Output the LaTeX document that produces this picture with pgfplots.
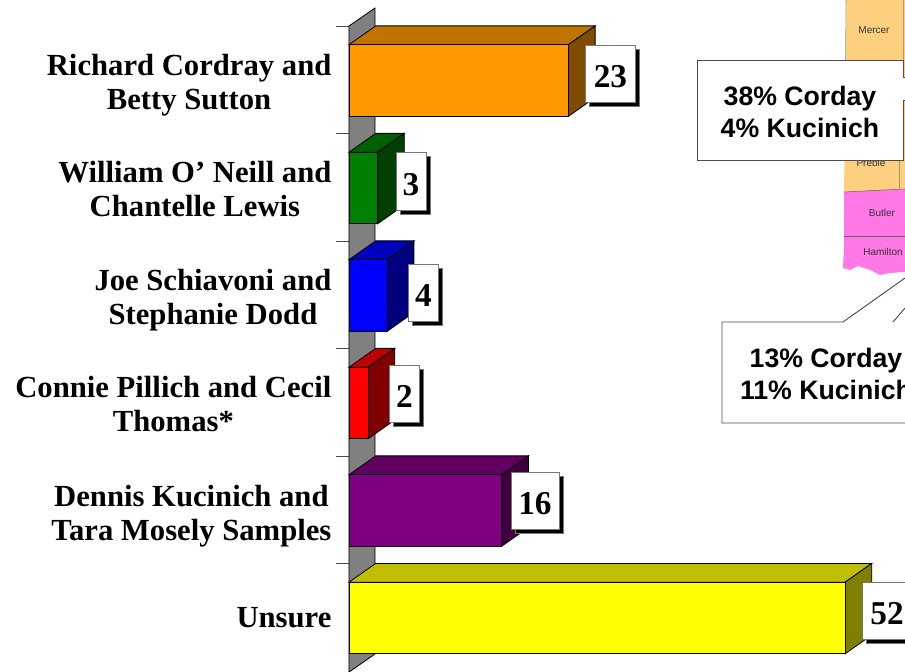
\documentclass[border=0pt]{standalone}
\usepackage{fontspec}
\setmainfont{Liberation Serif}
\newfontfamily\sansf{Liberation Sans}
\usepackage{pgfplots}
\pgfplotsset{compat=1.18}
\usetikzlibrary{shadows}

\definecolor{wallgray}{HTML}{808080}
\definecolor{maptan}{HTML}{FDD07F}
\definecolor{mappink}{HTML}{FF78E6}
\definecolor{boxedge}{HTML}{777777}
\definecolor{orF}{HTML}{FF9900}
\definecolor{orT}{HTML}{BF7300}
\definecolor{orS}{HTML}{804D00}
\definecolor{grF}{HTML}{008000}
\definecolor{grT}{HTML}{006000}
\definecolor{grS}{HTML}{004000}
\definecolor{blF}{HTML}{0000FF}
\definecolor{blT}{HTML}{0000BF}
\definecolor{blS}{HTML}{000080}
\definecolor{reF}{HTML}{FF0000}
\definecolor{reT}{HTML}{BF0000}
\definecolor{reS}{HTML}{800000}
\definecolor{puF}{HTML}{800080}
\definecolor{puT}{HTML}{600060}
\definecolor{puS}{HTML}{400040}
\definecolor{yeF}{HTML}{FFFF00}
\definecolor{yeT}{HTML}{BFBF00}
\definecolor{yeS}{HTML}{808000}

% front face of a bar with its white value box, args: colour, x offset, y offset, box width
\pgfplotsset{
  barface/.style n args={4}{
    xbar, bar width=53.6pt, bar shift=0pt,
    fill=#1, draw=black, line width=0.6pt,
    nodes near coords,
    every node near coord/.append style={
      anchor=west, xshift=#2, yshift=#3, minimum width=#4,
      text height=32pt, text depth=11pt,
      inner sep=0pt, fill=white, draw=boxedge, line width=0.5pt,
      font=\fontsize{25}{25}\selectfont\bfseries, text=black,
      drop shadow={shadow xshift=3pt, shadow yshift=-3pt, fill=black, opacity=1}
    }
  },
  face/.style={fill=#1, draw=black, line width=0.6pt, mark=none, forget plot}
}

\begin{document}
\begin{tikzpicture}
\begin{scope}
\clip (-261.75pt,0pt) rectangle (417pt,503.25pt);

% background map, pixel coordinates
\begin{scope}[x=0.75pt, y=-0.75pt, shift={(-349,-671)}]
  \fill[maptan] (846,0) -- (905,0) -- (905,190) -- (844,192) -- (845,120) -- cycle;
  \fill[mappink] (844,192) -- (905,189) -- (905,272) -- (890,273) -- (880,275)
    -- (870,270) -- (858,266) -- (850,270) -- (843,268) -- (844,245) -- cycle;
  \draw[gray!70!maptan, line width=0.4pt] (846,0) -- (845,120);
  \draw[gray!70!maptan, line width=0.4pt] (903,0) -- (903,100);
  \draw[gray!80!black, line width=0.4pt] (844,192) -- (905,189);
  \draw[gray!80!black, line width=0.4pt] (844,236) -- (905,236);
  \draw[gray!70!maptan, line width=0.4pt] (899,160) -- (899,190);
  \node[font=\sansf\fontsize{7.5}{8}\selectfont, text=black!80] at (874,30) {Mercer};
  \node[font=\sansf\fontsize{7.5}{8}\selectfont, text=black!80] at (871,163) {Preble};
  \node[font=\sansf\fontsize{7.5}{8}\selectfont, text=black!80] at (882,213) {Butler};
  \node[font=\sansf\fontsize{7.5}{8}\selectfont, text=black!80] at (883,252) {Hamilton};

  % callouts
  \fill[white] (697,60) -- (903,60) -- (903,160) -- (697,160) -- cycle;
  \fill[white] (903,77) rectangle (905,100);
  \draw[black!70, line width=0.7pt] (905,77) -- (903,77) -- (903,60) -- (697,60)
    -- (697,160) -- (903,160) -- (903,100) -- (905,100);
  \fill[white] (722,322) -- (843,322) -- (905,278) -- (905,308) -- (893,322)
    -- (905,322) -- (905,423) -- (722,423) -- cycle;
  \draw[black!70, line width=0.7pt] (905,423) -- (722,423) -- (722,322) -- (843,322) -- (905,278);
  \draw[black!70, line width=0.7pt] (893,322) -- (905,308);
  \node[font=\sansf\bfseries\fontsize{20}{24}\selectfont, align=center] at (800,112) {38\% Corday\\4\% Kucinich};
  \node[font=\sansf\bfseries\fontsize{20}{24}\selectfont, align=center] at (826,374) {13\% Corday\\11\% Kucinich};
\end{scope}

\begin{axis}[
    at={(0pt,0pt)}, anchor=south west,
    scale only axis, width=417pt, height=503.25pt,
    xmin=0, xmax=58.28,
    ymin=-0.7488, ymax=5.493,
    y dir=reverse,
    clip=false,
    axis x line=none,
    axis y line*=left,
    y axis line style={draw=none},
    point meta=x,
    /pgf/number format/assume math mode=true,
    ytick={0.04,1.01,2.04,3.01,4.05,5.0},
    yticklabels={
      {Richard Cordray and\\Betty Sutton},
      {William O’ Neill and\\Chantelle Lewis},
      {Joe Schiavoni and\\Stephanie Dodd},
      {Connie Pillich and Cecil\\Thomas*},
      {Dennis Kucinich and\\Tara Mosely Samples},
      {Unsure}},
    yticklabel style={align=center, anchor=east, inner sep=0pt, xshift=-13pt,
      font=\fontsize{23}{25.5}\selectfont\bfseries},
    major tick length=0pt,
    minor ytick={-0.505,0.495,1.495,2.495,3.495,4.495},
    minor tick length=10pt,
    tick align=outside,
    minor tick style={draw=black!70, line width=0.6pt},
]
% back wall
\addplot[face=wallgray] coordinates {(0,-0.507) (2.726,-0.674) (2.726,5.335) (0,5.503)} -- cycle;

% Cordray
\addplot[face=orT] coordinates {(0,-0.333) (23,-0.333) (25.8,-0.508) (2.8,-0.508)} -- cycle;
\addplot[face=orS] coordinates {(23,-0.333) (25.8,-0.508) (25.8,0.158) (23,0.333)} -- cycle;
\addplot[barface={orF}{12.75pt}{4.9pt}{37pt}] coordinates {(23,0)};

% O'Neill
\addplot[face=grT] coordinates {(0,0.667) (3,0.667) (5.8,0.492) (2.8,0.492)} -- cycle;
\addplot[face=grS] coordinates {(3,0.667) (5.8,0.492) (5.8,1.158) (3,1.333)} -- cycle;
\addplot[barface={grF}{13.5pt}{4.9pt}{22.5pt}] coordinates {(3,1)};

% Schiavoni
\addplot[face=blT] coordinates {(0,1.667) (4,1.667) (6.8,1.492) (2.8,1.492)} -- cycle;
\addplot[face=blS] coordinates {(4,1.667) (6.8,1.492) (6.8,2.158) (4,2.333)} -- cycle;
\addplot[barface={blF}{15.75pt}{1.9pt}{22.5pt}] coordinates {(4,2)};

% Pillich
\addplot[face=reT] coordinates {(0,2.667) (2,2.667) (4.8,2.492) (2.8,2.492)} -- cycle;
\addplot[face=reS] coordinates {(2,2.667) (4.8,2.492) (4.8,3.158) (2,3.333)} -- cycle;
\addplot[barface={reF}{15.75pt}{7pt}{22.5pt}] coordinates {(2,3)};

% Kucinich
\addplot[face=puT] coordinates {(0,3.667) (16,3.667) (18.8,3.492) (2.8,3.492)} -- cycle;
\addplot[face=puS] coordinates {(16,3.667) (18.8,3.492) (18.8,4.158) (16,4.333)} -- cycle;
\addplot[barface={puF}{6.75pt}{7.5pt}{36pt}] coordinates {(16,4)};

% Unsure
\addplot[face=yeT] coordinates {(0,4.667) (52,4.667) (54.8,4.492) (2.8,4.492)} -- cycle;
\addplot[face=yeS] coordinates {(52,4.667) (54.8,4.492) (54.8,5.158) (52,5.333)} -- cycle;
\addplot[barface={yeF}{12.75pt}{5.6pt}{37pt}] coordinates {(52,5)};
\end{axis}
\end{scope}
\pgfresetboundingbox
\path[use as bounding box] (-261.75pt,0pt) rectangle (417pt,503.25pt);
\end{tikzpicture}
\end{document}
